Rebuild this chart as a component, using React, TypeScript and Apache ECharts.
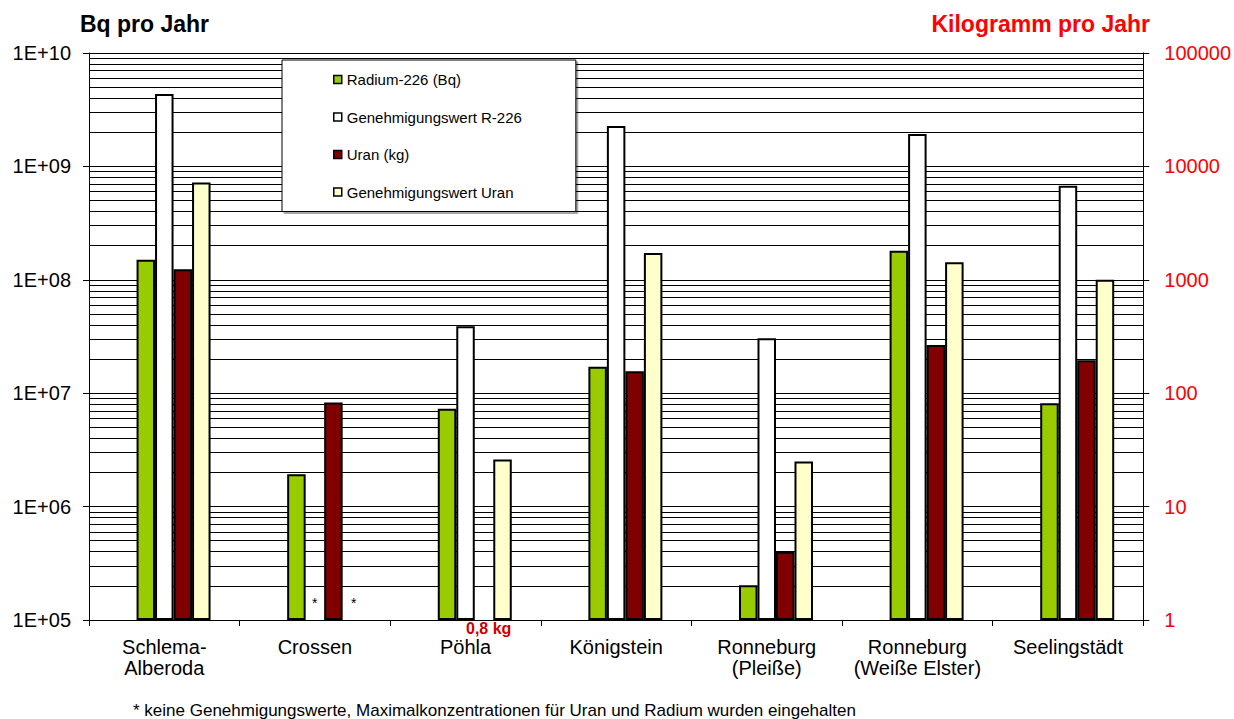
import React, { useEffect, useRef } from "react";
import * as echarts from "echarts";

const categories = [
  "Schlema-\nAlberoda",
  "Crossen",
  "Pöhla",
  "Königstein",
  "Ronneburg\n(Pleiße)",
  "Ronneburg\n(Weiße Elster)",
  "Seelingstädt",
];
const radiumBq = [1.5e8, 1.93e6, 7.3e6, 1.71e7, 2.02e5, 1.8e8, 8.15e6];
const radiumLimitBq = [4.35e9, null, 3.9e7, 2.27e9, 3.05e7, 1.93e9, 6.76e8];
const uranKg = [1240, 83, null, 156, 4, 266, 195];
const uranLimitKg = [7200, null, 26, 1720, 25, 1430, 1000];
const hiddenSlot = [null, null, null, null, null, null, null];

const seriesNames = [
  "Radium-226 (Bq)",
  "Genehmigungswert R-226",
  "Uran (kg)",
  "Genehmigungswert Uran",
];
const seriesColors = ["#99cc00", "#ffffff", "#800000", "#ffffcc"];

const leftMin = 1e5;
const leftMax = 1e10;
const rightMin = 1;
const rightMax = 1e5;

const FONT = "'Liberation Sans', Arial, sans-serif";

function minorGridValues(): number[] {
  const out: number[] = [];
  for (let e = Math.log10(leftMin); e < Math.log10(leftMax); e++) {
    for (let m = 2; m <= 9; m++) out.push(m * Math.pow(10, e));
  }
  return out;
}

export default function App() {
  const ref = useRef<HTMLDivElement>(null);
  useEffect(() => {
    if (!ref.current) return;
    const chart = echarts.init(ref.current, null, { renderer: "svg" });
    const barW = 18.5;
    const barBase = {
      type: "bar" as const,
      barWidth: barW,
      barGap: "0%",
      z: 3,
      itemStyle: { borderColor: "#000000", borderWidth: 2 },
    };
    chart.setOption({
      animation: false,
      backgroundColor: "#ffffff",
      textStyle: { fontFamily: FONT },
      title: [
        {
          text: "Bq pro Jahr",
          left: 80,
          top: 12,
          padding: 0,
          textStyle: { fontFamily: FONT, fontSize: 23, fontWeight: "bold", color: "#000000" },
        },
        {
          text: "Kilogramm pro Jahr",
          right: 84,
          top: 12,
          padding: 0,
          textStyle: { fontFamily: FONT, fontSize: 23, fontWeight: "bold", color: "#ff0000" },
        },
      ],
      legend: {
        data: seriesNames,
        orient: "vertical",
        left: 282,
        top: 60,
        padding: [12, 54, 12, 51],
        itemGap: 22.5,
        itemWidth: 8,
        itemHeight: 8,
        icon: "rect",
        backgroundColor: "#ffffff",
        borderColor: "#000000",
        borderWidth: 1,
        shadowColor: "rgba(0,0,0,0.35)",
        shadowBlur: 0,
        shadowOffsetX: 2,
        shadowOffsetY: 2,
        itemStyle: { borderColor: "#000000", borderWidth: 1.5 },
        textStyle: { fontFamily: FONT, fontSize: 15, lineHeight: 15, color: "#000000" },
      },
      grid: { left: 89, right: 88, top: 53, bottom: 99, containLabel: false },
      xAxis: {
        type: "category",
        data: categories,
        axisLine: { show: true, lineStyle: { color: "#000000", width: 1 } },
        axisTick: { show: true, length: 6, interval: 0, lineStyle: { color: "#000000" } },
        axisLabel: {
          interval: 0,
          margin: 16,
          fontFamily: FONT,
          fontSize: 20,
          lineHeight: 21,
          color: "#000000",
        },
        splitLine: { show: false },
      },
      yAxis: [
        {
          type: "log",
          logBase: 10,
          min: leftMin,
          max: leftMax,
          startValue: leftMin,
          position: "left",
          axisLine: { show: true, lineStyle: { color: "#000000", width: 1 } },
          axisTick: { show: true, length: 6, lineStyle: { color: "#000000" } },
          axisLabel: {
            margin: 18,
            fontFamily: FONT,
            fontSize: 20,
            color: "#000000",
            formatter: (v: number) => {
              const e = Math.round(Math.log10(v));
              return "1E+" + (e < 10 ? "0" : "") + e;
            },
          },
          splitLine: { show: true, lineStyle: { color: "#000000", width: 1 } },
        },
        {
          type: "log",
          logBase: 10,
          min: rightMin,
          max: rightMax,
          startValue: rightMin,
          position: "right",
          axisLine: { show: true, lineStyle: { color: "#000000", width: 1 } },
          axisTick: { show: true, length: 6, lineStyle: { color: "#000000" } },
          axisLabel: {
            margin: 21,
            fontFamily: FONT,
            fontSize: 20,
            color: "#ff0000",
            formatter: (v: number) => String(Math.round(v)),
          },
          splitLine: { show: false },
        },
      ],
      series: [
        {
          ...barBase,
          name: "slot",
          yAxisIndex: 0,
          data: hiddenSlot,
          markLine: {
            z: 1,
            silent: true,
            symbol: ["none", "none"],
            label: { show: false },
            lineStyle: { color: "#000000", width: 1, type: "solid" },
            emphasis: { disabled: true },
            data: minorGridValues().map((v) => ({ yAxis: v })),
          },
        },
        { ...barBase, name: seriesNames[0], yAxisIndex: 0, data: radiumBq, itemStyle: { ...barBase.itemStyle, color: seriesColors[0] } },
        { ...barBase, name: seriesNames[1], yAxisIndex: 0, data: radiumLimitBq, itemStyle: { ...barBase.itemStyle, color: seriesColors[1] } },
        { ...barBase, name: seriesNames[2], yAxisIndex: 1, data: uranKg, itemStyle: { ...barBase.itemStyle, color: seriesColors[2] } },
        { ...barBase, name: seriesNames[3], yAxisIndex: 1, data: uranLimitKg, itemStyle: { ...barBase.itemStyle, color: seriesColors[3] } },
      ],
      graphic: [
        {
          type: "text",
          left: 466,
          top: 620,
          z: 10,
          style: { text: "0,8 kg", fontFamily: FONT, fontSize: 16, lineHeight: 12, fontWeight: "bold", fill: "#cc0000" },
        },
        {
          type: "text",
          left: 312,
          top: 596,
          z: 10,
          style: { text: "*", fontFamily: FONT, fontSize: 14, fill: "#000000" },
        },
        {
          type: "text",
          left: 351,
          top: 596,
          z: 10,
          style: { text: "*", fontFamily: FONT, fontSize: 14, fill: "#000000" },
        },
        {
          type: "text",
          left: 133,
          top: 702,
          z: 10,
          style: {
            text: "* keine Genehmigungswerte, Maximalkonzentrationen für Uran und Radium wurden eingehalten",
            fontFamily: FONT,
            fontSize: 17,
            fill: "#000000",
          },
        },
      ],
    });
    return () => chart.dispose();
  }, []);
  return (
    <div
      ref={ref}
      style={{ position: "absolute", left: 0, top: 0, width: 1234, height: 719 }}
    />
  );
}
